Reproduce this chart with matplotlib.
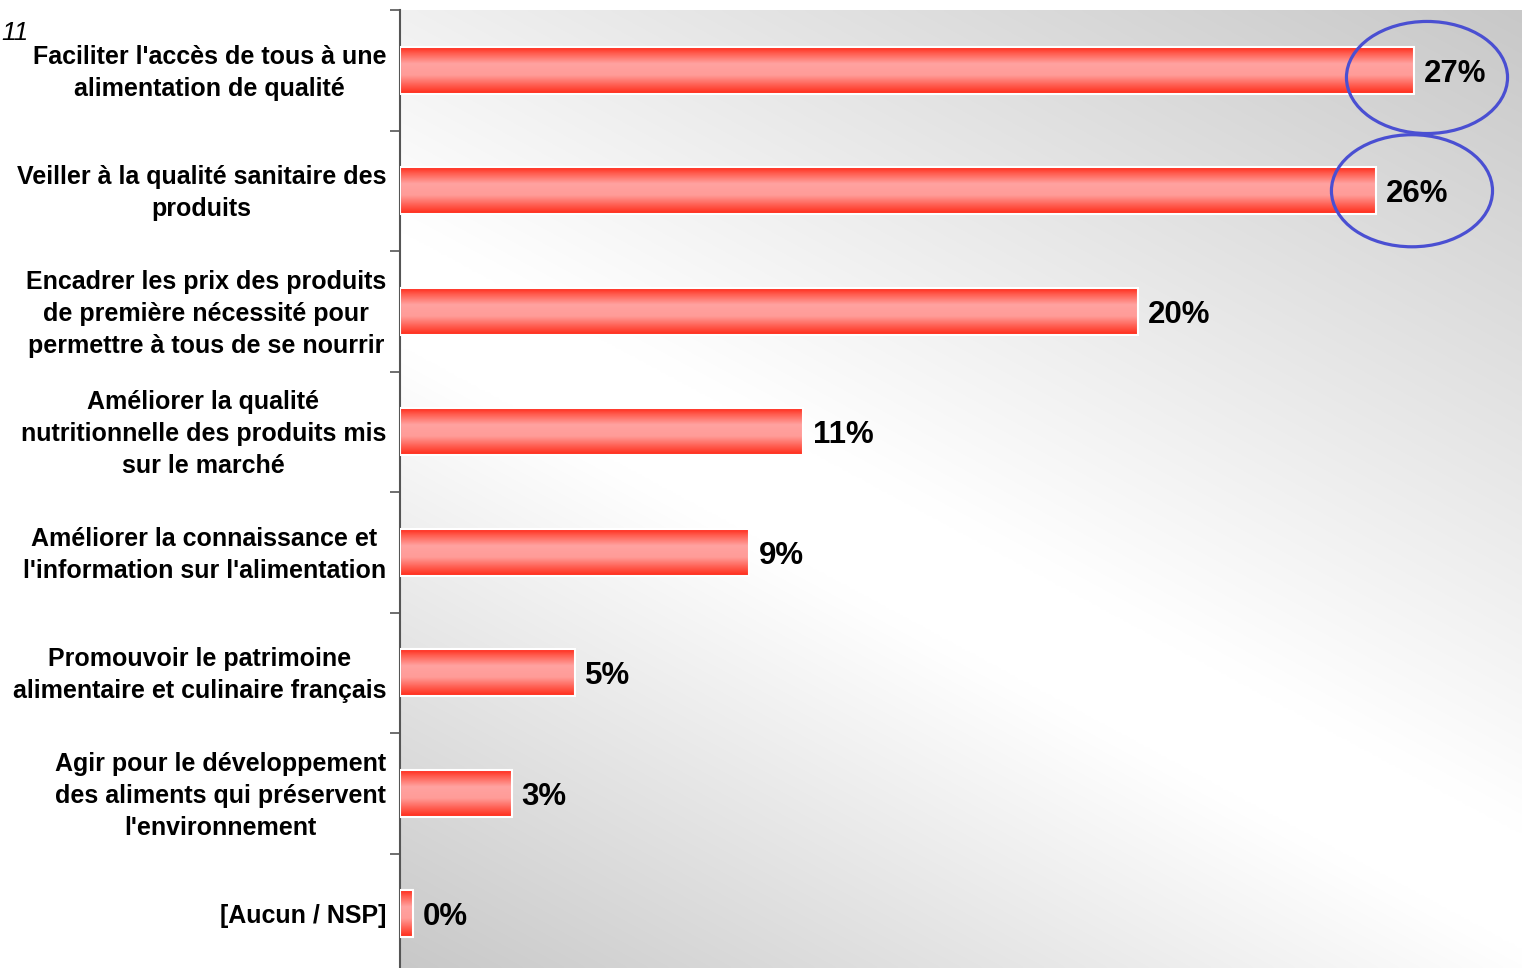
import numpy as np
import matplotlib
matplotlib.use("Agg")
import matplotlib.pyplot as plt
from matplotlib.patches import Rectangle, Ellipse
from matplotlib.colors import LinearSegmentedColormap

categories = [
    "Faciliter l'accès de tous à une\nalimentation de qualité",
    "Veiller à la qualité sanitaire des\nproduits",
    "Encadrer les prix des produits\nde première nécessité pour\npermettre à tous de se nourrir",
    "Améliorer la qualité\nnutritionnelle des produits mis\nsur le marché",
    "Améliorer la connaissance et\nl'information sur l'alimentation",
    "Promouvoir le patrimoine\nalimentaire et culinaire français",
    "Agir pour le développement\ndes aliments qui préservent\nl'environnement",
    "[Aucun / NSP]",
]
values = [27.0, 26.0, 19.65, 10.73, 9.29, 4.66, 2.98, 0.35]
value_labels = ["27%", "26%", "20%", "11%", "9%", "5%", "3%", "0%"]
highlighted = [0, 1]
ellipse_dx = [0.35, 0.95]
ellipse_dy = [0.06, 0.0]

plt.rcParams['font.family'] = ['Liberation Sans', 'DejaVu Sans']

W, H = 1522, 968
fig = plt.figure(figsize=(W / 100, H / 100), dpi=100)
ax = fig.add_axes([400 / W, 0, 1122 / W, 958 / H])

n = len(categories)
xmax = 29.88
ymin, ymax = 7.45, -0.5

# background diagonal gradient (white band from left-middle to bottom-right)
uu, vv = np.meshgrid(np.linspace(0, 1, 400), np.linspace(1, 0, 400))
s = vv + 0.63 * uu - 0.70
d = np.where(s > 0, s / 0.93, -s / 0.70)
g = 1 - 0.215 * np.clip((d - 0.08) / 0.92, 0, 1) ** 1.0
bg = np.dstack([g, g, g])
ax.imshow(bg, extent=[0, xmax, ymin, ymax], aspect='auto', zorder=0,
          interpolation='bicubic')

# bar gradient colormap (top -> bottom)
bar_cmap = LinearSegmentedColormap.from_list(
    "barg", [(0.0, "#ff2b1c"), (0.12, "#ff5a4c"), (0.35, "#ffa2a0"),
             (0.6, "#ff9c98"), (0.85, "#ff5446"), (1.0, "#ff2a18")])
grad = np.linspace(0, 1, 100).reshape(-1, 1)

bh = 0.39
for i, v in enumerate(values):
    rect = Rectangle((0, i - bh / 2), v, bh, facecolor='none',
                     edgecolor='white', linewidth=1.5, zorder=3)
    ax.add_patch(rect)
    im = ax.imshow(grad, cmap=bar_cmap, aspect='auto',
                   extent=[0, v, i + bh / 2, i - bh / 2], zorder=2,
                   interpolation='bilinear')
    im.set_clip_path(rect)
    ax.annotate(value_labels[i], (v, i), xytext=(7, -2.5),
                textcoords='offset points', ha='left', va='center',
                fontsize=22.5, fontweight='bold', color='black', zorder=4)

for k, i in enumerate(highlighted):
    e = Ellipse((values[i] + ellipse_dx[k], i + ellipse_dy[k]), 4.29, 0.93,
                facecolor='none', edgecolor='#4a4fd2', linewidth=2.3,
                zorder=5, clip_on=False)
    ax.add_patch(e)

# category labels (right-aligned block, centred lines)
for i, lab in enumerate(categories):
    ax.annotate(lab, (0, i), xycoords=('axes fraction', 'data'),
                xytext=(-10, -1.8), textcoords='offset points',
                ha='right', va='center', multialignment='center',
                fontsize=18, fontweight='bold', linespacing=1.42,
                annotation_clip=False)

# axes styling
for side in ['top', 'right', 'bottom']:
    ax.spines[side].set_visible(False)
ax.spines['left'].set_color('#555555')
ax.spines['left'].set_linewidth(1.5)
ax.set_xticks([])
ax.set_yticks(np.arange(-0.5, n, 1.0))
ax.set_yticklabels([])
ax.tick_params(axis='y', which='major', length=7, width=1.2, color='#555555')

ax.set_xlim(0, xmax)
ax.set_ylim(ymin, ymax)

fig.text(1 / W, 1 - 40 / H, "11", fontsize=19, fontstyle='italic',
         ha='left', va='baseline')

fig.savefig("out.png", dpi=100, facecolor='white')
